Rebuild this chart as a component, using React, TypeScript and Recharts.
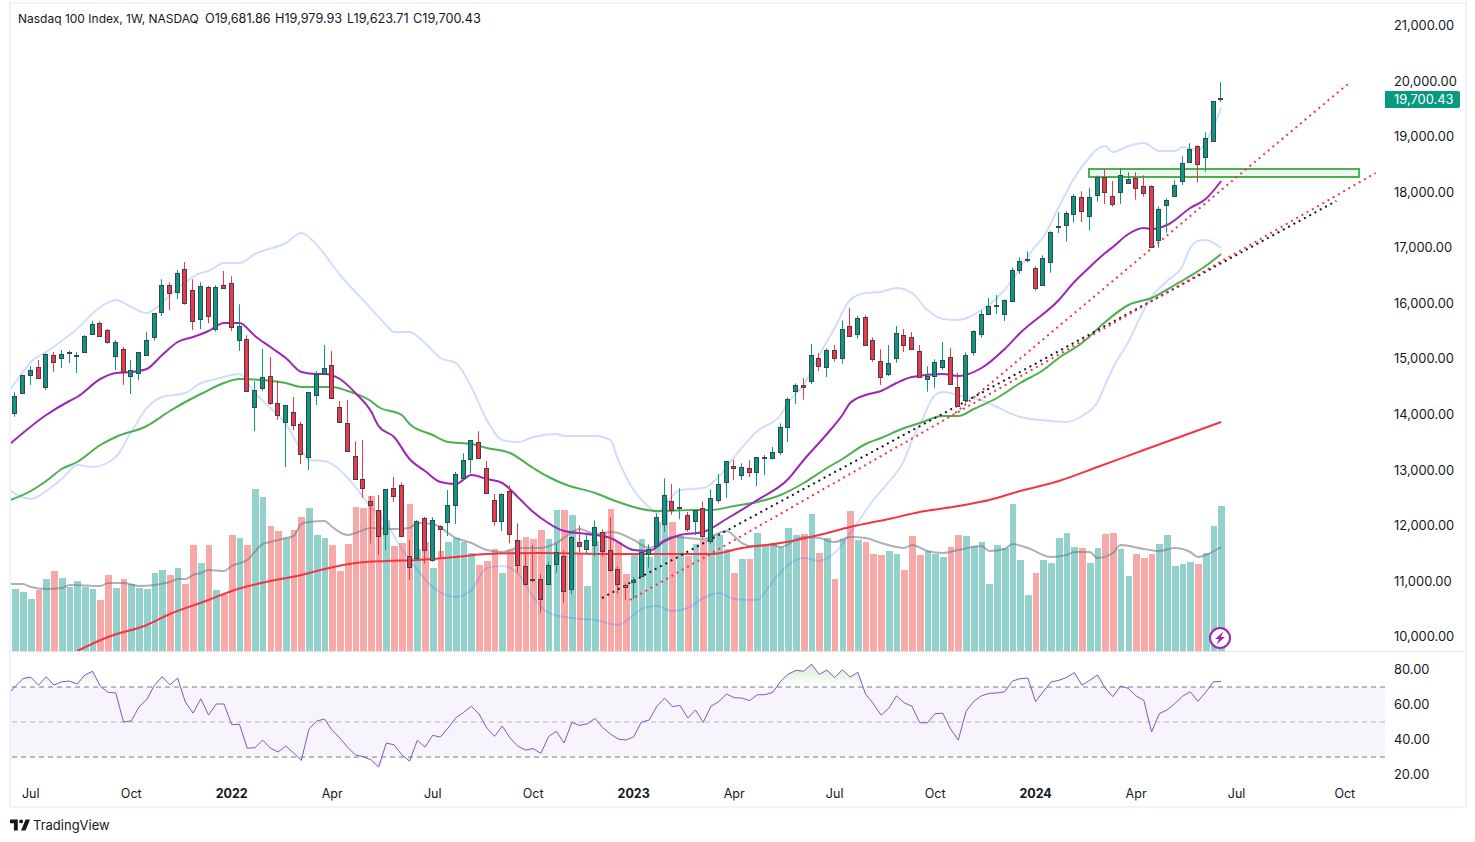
import {
  Area,
  Bar,
  ComposedChart,
  Line,
  ReferenceArea,
  ReferenceLine,
  XAxis,
  YAxis,
} from 'recharts';

// weekly candles, index 0 = first full candle on screen
const opens = [
  14019, 14379, 14715, 14847, 14487, 15063, 15009, 15111, 15057, 15117,
  15441, 15639, 15513, 15045, 15171, 14685, 14739, 15063, 15387, 15849,
  16323, 16197, 16611, 16233, 15711, 16287, 15531, 16323, 16359, 15345,
  15351, 14127, 14469, 14685, 14199, 13857, 14037, 13821, 13227, 14343,
  14721, 14883, 14127, 13839, 13245, 12831, 12435, 12273, 11841, 12669,
  12723, 11445, 11421, 12129, 11385, 11985, 12057, 12363, 12849, 13191,
  13497, 13029, 12453, 12075, 12615, 11733, 11265, 11031, 11031, 10941,
  11301, 11445, 10863, 11697, 11583, 11655, 11877, 11553, 11211, 10929,
  10989, 11097, 11493, 11625, 12021, 12435, 12315, 12183, 12075, 12309,
  11715, 12453, 12777, 13065, 12903, 13029, 12957, 13209, 13221, 13317,
  13779, 14427, 14523, 14595, 15009, 14847, 15153, 15009, 15585, 15441,
  15747, 15333, 14955, 14733, 15009, 15423, 15387, 15135, 14631, 14685,
  14847, 15027, 14487, 14253, 15117, 15441, 15813, 15945, 15801, 16035,
  16593, 16785, 16629, 16323, 16737, 17385, 17403, 17601, 17907, 17565,
  17943, 18267, 17925, 17997, 18171, 18249, 18105, 18105, 17133, 17763,
  17925, 18195, 18537, 18825, 18627, 18915, 19681.86,
];
const highs = [
  14397, 14703, 14871, 14979, 15099, 15123, 15159, 15147, 15123, 15429,
  15681, 15675, 15537, 15339, 15213, 14979, 15117, 15483, 15819, 16431,
  16377, 16593, 16743, 16431, 16377, 16311, 16323, 16581, 16485, 15981,
  15423, 14595, 15177, 15033, 14613, 14163, 14313, 13863, 14397, 14781,
  15249, 15141, 14241, 14259, 13515, 13539, 12537, 12549, 12651, 12873,
  12777, 11739, 12093, 12153, 12147, 12003, 12639, 12963, 13299, 13533,
  13695, 13161, 12567, 12579, 12723, 12039, 11517, 11649, 11127, 11349,
  11667, 11553, 11811, 12003, 11841, 12093, 11931, 12153, 11271, 10959,
  11067, 11517, 11661, 12219, 12849, 12747, 12669, 12243, 12273, 12435,
  12651, 12927, 13155, 13179, 13119, 13173, 13227, 13269, 13413, 13839,
  14307, 14559, 14655, 15267, 15105, 15189, 15249, 15693, 15915, 15771,
  15783, 15387, 15171, 15249, 15591, 15537, 15483, 15249, 14865, 14991,
  15303, 15195, 14745, 15117, 15513, 15873, 16095, 16149, 16071, 16647,
  16827, 16935, 16665, 16863, 17295, 17637, 17655, 17961, 18015, 18075,
  18303, 18411, 18201, 18429, 18357, 18357, 18303, 18123, 17745, 17889,
  18213, 18645, 18879, 18843, 19077, 19635, 19979.93,
];
const lows = [
  13959, 14379, 14529, 14649, 14439, 14763, 14835, 14925, 14745, 15117,
  15441, 15405, 15273, 14799, 14529, 14367, 14619, 15063, 15327, 15771,
  15879, 16077, 15975, 15519, 15531, 15639, 15489, 16281, 15501, 15141,
  14415, 13701, 14421, 14169, 13899, 13053, 13719, 13107, 12999, 14169,
  14709, 14277, 13857, 13335, 12831, 12501, 11679, 11469, 11559, 12423,
  11805, 11019, 11379, 11319, 11349, 11409, 11811, 12027, 12849, 12939,
  13209, 12579, 11997, 11901, 11679, 11151, 10941, 10971, 10425, 10941,
  11151, 10611, 10767, 11511, 11499, 11439, 11439, 11169, 10767, 10659,
  10677, 11091, 11241, 11607, 11889, 12195, 12111, 11889, 11829, 11769,
  11667, 12399, 12501, 12819, 12819, 12873, 12711, 12909, 13191, 13269,
  13509, 14187, 14265, 14547, 14781, 14673, 14949, 14913, 15405, 15363,
  15243, 14949, 14529, 14691, 14931, 15123, 15171, 14667, 14409, 14475,
  14799, 14541, 14145, 14199, 15057, 15381, 15813, 15813, 15681, 16035,
  16527, 16737, 16227, 16323, 16551, 17265, 17109, 17451, 17463, 17307,
  17829, 17787, 17739, 17787, 18153, 17865, 17919, 17007, 17001, 17271,
  17925, 18129, 18537, 18171, 18369, 18915, 19623.71,
];
const closes = [
  14325, 14703, 14793, 14649, 15081, 14937, 15081, 15123, 15069, 15405,
  15621, 15405, 15297, 15297, 14757, 14793, 15117, 15333, 15819, 16323,
  16179, 16539, 15999, 15675, 16305, 15765, 16287, 16281, 15567, 15585,
  14415, 14433, 14667, 14211, 13983, 14163, 13803, 13281, 14397, 14721,
  14829, 14295, 13857, 13335, 12831, 12669, 12363, 11805, 12651, 12525,
  11805, 11247, 12075, 11553, 12093, 11943, 12363, 12921, 13173, 13533,
  13209, 12579, 12075, 12561, 11841, 11283, 10941, 11013, 10671, 11283,
  11517, 10827, 11793, 11637, 11733, 11967, 11535, 11205, 10953, 10899,
  11013, 11517, 11583, 12147, 12543, 12273, 12327, 11943, 12273, 11805,
  12489, 12741, 13155, 13029, 13047, 12969, 13227, 13227, 13317, 13767,
  14271, 14523, 14499, 15063, 14865, 15153, 15009, 15531, 15405, 15729,
  15243, 14991, 14667, 14919, 15459, 15243, 15171, 14667, 14685, 14937,
  14973, 14541, 14145, 15063, 15495, 15801, 15945, 15963, 16053, 16593,
  16755, 16791, 16269, 16809, 17277, 17391, 17619, 17925, 17655, 17907,
  18267, 17997, 17781, 18303, 18231, 18069, 17979, 17007, 17691, 17853,
  18123, 18519, 18771, 18501, 18969, 19635, 19700.43,
];
const volumes = [
  6.2, 5.9, 5.2, 6.1, 7.2, 8.0, 7.3, 6.4, 7.0, 6.4,
  6.2, 5.1, 7.6, 6.3, 7.2, 6.7, 6.3, 6.2, 7.8, 8.1,
  7.6, 8.3, 6.7, 10.6, 8.8, 10.6, 6.1, 5.6, 11.6, 11.3,
  10.6, 16.2, 15.4, 12.5, 12.0, 11.3, 12.1, 13.4, 14.3, 11.6,
  11.3, 10.6, 8.0, 10.7, 14.4, 14.3, 15.5, 14.1, 13.1, 10.5,
  10.8, 14.7, 10.2, 10.9, 8.3, 10.0, 10.9, 11.3, 10.9, 9.8,
  8.6, 9.0, 10.2, 7.8, 10.1, 11.1, 11.4, 11.2, 12.1, 11.2,
  14.1, 14.1, 13.6, 9.7, 6.5, 11.0, 11.8, 14.2, 10.9, 7.7,
  9.6, 11.2, 9.4, 12.9, 15.1, 12.9, 11.5, 9.5, 10.7, 11.1,
  11.6, 11.6, 10.2, 7.8, 9.2, 9.2, 11.8, 10.5, 10.7, 10.4,
  12.3, 11.6, 11.7, 13.7, 9.8, 11.3, 7.2, 11.2, 14.0, 11.1,
  10.9, 9.7, 9.6, 10.0, 9.7, 8.1, 11.5, 9.6, 10.0, 9.7,
  9.4, 10.4, 11.6, 11.5, 10.5, 10.9, 6.7, 10.6, 10.3, 14.7,
  9.1, 5.6, 7.8, 9.1, 8.8, 11.3, 11.8, 10.4, 10.3, 8.8,
  10.3, 11.7, 11.8, 10.2, 7.5, 9.7, 9.3, 9.7, 10.7, 11.6,
  8.5, 8.7, 8.9, 8.7, 9.8, 12.5, 14.5,
];

// RSI starts one week earlier, left of the first candle
const rsiValues = [
  65.5, 70.4, 74.8, 75.7, 71, 75.9, 71.1, 73, 73.4, 71.7, 76.9,
  79, 70.4, 67, 66.6, 50, 50.6, 58.6, 62.8, 71, 75.9,
  71.3, 75.1, 61.4, 55.1, 63.3, 54, 60.3, 60.3, 48.5, 48.7,
  35.1, 35.3, 39.7, 35.1, 32.9, 36.3, 32.3, 28.1, 46, 50.6,
  51.7, 45.2, 40.9, 35.5, 31.3, 30.2, 28.5, 24.3, 38, 37,
  31.3, 27.7, 39.5, 35.7, 42.4, 41.4, 46.6, 52.5, 55.5, 59,
  54.6, 46.6, 41.8, 47.7, 40.9, 36.3, 34, 34.8, 32.1, 41.8,
  44.7, 38, 49.8, 48.1, 49, 52.1, 46.8, 43.1, 40.3, 39.7,
  41.6, 50, 51.1, 59, 63.7, 58.8, 59.5, 52.3, 56.9, 49.8,
  59, 61.6, 66, 63.9, 63.7, 62.2, 65.6, 65.6, 67, 73.2,
  77.4, 79.5, 79, 83.1, 77.2, 79.7, 75.3, 79.9, 75.7, 78.4,
  66, 60.5, 54, 57.8, 64.9, 61, 59, 49.6, 49.6, 54.8,
  55, 46, 39.7, 56.1, 61.8, 65, 66.4, 66.6, 67.3, 73.4,
  74.8, 75.1, 61.6, 67.5, 72.9, 73.8, 75.5, 78.2, 71.1, 73.8,
  76.9, 69.4, 64.5, 70.6, 69.2, 64.9, 62.4, 44.3, 54.8, 56.9,
  60.5, 64.7, 67.3, 61.8, 67, 73, 73.2,
];

// moving averages, read at the weeks where the curve bends
const sma20Weeks = [
  -1, 4, 7, 8, 11, 13, 15, 17, 19, 21, 23, 25, 27, 29, 31, 33, 35, 37, 39, 40, 42, 44, 46, 47, 49,
  51, 53, 55, 57, 59, 61, 63, 65, 67, 68, 71, 74, 77, 80, 82, 84, 86, 89, 92, 96, 100, 102, 105,
  107, 108, 110, 112, 114, 116, 120, 122, 125, 128, 130, 135, 137, 139, 141, 142, 144, 146, 147,
  149, 152, 154, 156,
];
const sma20Values = [
  13431, 13989, 14241, 14313, 14637, 14745, 14763, 14817, 15069, 15303, 15393, 15501, 15645, 15645,
  15411, 15213, 15015, 14763, 14727, 14727, 14637, 14385, 14061, 13791, 13593, 13197, 12981, 12783,
  12747, 12909, 12837, 12765, 12513, 12243, 12135, 11901, 11847, 11775, 11559, 11541, 11721, 11829,
  11883, 12117, 12459, 12837, 13179, 13647, 13989, 14205, 14349, 14421, 14565, 14673, 14727, 14691,
  14835, 15177, 15465, 16059, 16383, 16653, 16905, 17013, 17247, 17355, 17337, 17409, 17715, 17877,
  18201,
];
const sma50Weeks = [
  -1, 2, 4, 6, 8, 11, 13, 17, 20, 22, 24, 27, 29, 32, 35, 37, 41, 43, 46, 47, 50, 51, 54, 56, 59,
  61, 64, 67, 69, 71, 75, 78, 81, 83, 88, 90, 93, 96, 99, 102, 105, 107, 110, 112, 115, 117, 120,
  122, 124, 127, 130, 133, 135, 138, 141, 144, 147, 150, 152, 154, 156,
];
const sma50Values = [
  12441, 12621, 12801, 13017, 13143, 13449, 13593, 13791, 14061, 14223, 14367, 14565, 14637, 14619,
  14565, 14493, 14493, 14421, 14241, 14133, 13989, 13827, 13629, 13503, 13467, 13395, 13305, 13035,
  12873, 12747, 12585, 12423, 12297, 12261, 12279, 12279, 12351, 12423, 12549, 12765, 13035, 13197,
  13467, 13575, 13755, 13845, 13971, 13971, 14097, 14295, 14565, 14799, 15015, 15285, 15663, 15969,
  16095, 16329, 16491, 16671, 16887,
];
const sma200Weeks = [
  8, 12, 17, 20, 25, 28, 33, 37, 40, 44, 48, 52, 57, 61, 68, 77, 84, 90, 94, 99, 104, 108, 113, 117,
  122, 126, 130, 135, 140, 146, 151, 156,
];
const sma200Values = [
  9741, 9993, 10209, 10407, 10659, 10821, 11001, 11109, 11217, 11325, 11361, 11379, 11433, 11487,
  11505, 11487, 11487, 11487, 11595, 11685, 11829, 11973, 12117, 12243, 12351, 12459, 12621, 12801,
  13053, 13359, 13611, 13863,
];
const bbUpperWeeks = [
  -1, 1, 2, 4, 6, 8, 11, 13, 15, 17, 18, 21, 24, 25, 27, 29, 31, 35, 37, 39, 42, 45, 48, 49, 51, 53,
  55, 57, 59, 61, 63, 65, 67, 70, 71, 75, 77, 78, 80, 82, 83, 84, 86, 89, 91, 93, 96, 99, 100, 102,
  104, 106, 108, 110, 112, 114, 116, 118, 120, 122, 125, 127, 129, 130, 132, 133, 135, 137, 139,
  140, 141, 142, 144, 146, 148, 150, 151, 153, 155, 156,
];
const bbUpperValues = [
  14385, 14763, 14943, 15123, 15321, 15537, 15933, 16059, 15933, 15825, 15897, 16275, 16545, 16581,
  16725, 16725, 16887, 17085, 17265, 17049, 16509, 16059, 15609, 15483, 15483, 15285, 15015, 14925,
  14493, 13899, 13539, 13503, 13593, 13647, 13611, 13611, 13539, 13179, 12639, 12333, 12225, 12369,
  12639, 12675, 12873, 13233, 13701, 13989, 14223, 14529, 15069, 15555, 16059, 16185, 16203, 16275,
  16185, 15879, 15717, 15699, 15879, 16095, 16419, 16635, 17031, 17193, 17733, 18255, 18633, 18777,
  18831, 18723, 18831, 18885, 18741, 18741, 18813, 18759, 19173, 19515,
];
const bbLowerWeeks = [
  -1, 2, 4, 6, 8, 10, 13, 15, 17, 19, 22, 24, 26, 29, 31, 33, 35, 37, 38, 40, 42, 44, 46, 48, 50, 52,
  54, 57, 59, 61, 63, 65, 67, 69, 72, 75, 78, 80, 81, 83, 85, 87, 89, 91, 93, 96, 97, 99, 102, 104,
  106, 109, 111, 113, 115, 116, 117, 119, 120, 123, 125, 127, 130, 134, 136, 138, 140, 141, 142, 144,
  146, 147, 149, 151, 152, 153, 154, 156,
];
const bbLowerValues = [
  12657, 12477, 12621, 12837, 13089, 13053, 13233, 13683, 14115, 14313, 14385, 14565, 14637, 14727,
  14385, 14115, 13827, 13359, 13179, 13161, 12999, 12693, 12333, 12045, 11577, 11199, 10893, 10713,
  10839, 11235, 11271, 11145, 10713, 10425, 10335, 10299, 10209, 10389, 10497, 10551, 10461, 10515,
  10695, 10785, 10677, 10659, 10803, 11163, 11415, 11361, 11505, 12063, 12459, 12783, 13179, 13539,
  13809, 14349, 14403, 14313, 14259, 14133, 13953, 13881, 13863, 13971, 14223, 14529, 14835, 15303,
  15879, 16113, 16401, 16671, 16995, 17121, 17139, 16995,
];
const volMaWeeks = [
  -1, 1, 2, 4, 6, 7, 11, 12, 14, 16, 18, 20, 21, 22, 23, 24, 25, 27, 28, 30, 32, 33, 35, 36, 37, 38,
  40, 41, 43, 44, 46, 49, 51, 52, 54, 57, 59, 61, 63, 65, 68, 70, 73, 75, 77, 78, 80, 82, 84, 85, 87,
  89, 92, 94, 95, 98, 99, 102, 104, 106, 108, 110, 112, 115, 116, 118, 120, 122, 125, 126, 128, 129,
  131, 134, 136, 137, 139, 140, 142, 143, 146, 148, 150, 152, 153, 154, 156,
];
const volMaValues = [
  6.7, 6.7, 6.4, 6.2, 6.3, 6.6, 6.5, 6.8, 6.8, 6.5, 6.6, 6.9, 7.2, 7.2, 7.6, 7.8, 8.1, 8.0, 8.5, 9.1,
  10.7, 10.9, 11.3, 11.5, 12.7, 12.9, 13.0, 12.4, 11.6, 11.8, 12.3, 12.2, 12.3, 12.8, 12.7, 11.3, 10.8,
  10.1, 9.9, 10.3, 10.3, 10.8, 12.2, 11.7, 11.9, 11.8, 11.1, 10.3, 11.1, 11.4, 11.3, 11.2, 12.0, 10.8,
  10.5, 10.6, 10.4, 11.4, 11.3, 10.9, 11.4, 11.3, 10.8, 10.3, 10.6, 10.0, 9.8, 10.1, 10.5, 10.0, 10.2,
  10.7, 10.3, 9.4, 9.6, 9.9, 9.9, 9.3, 9.8, 10.6, 10.2, 10.0, 10.3, 9.9, 9.4, 9.6, 10.4,
];

const priceTicks = [10000, 11000, 12000, 13000, 14000, 15000, 16000, 17000, 18000, 19000, 20000, 21000];
const rsiTicks = [20, 40, 60, 80];
const timeTicks = [2, 15, 28, 41, 54, 67, 80, 93, 106, 119, 132, 145, 158, 172];
const timeLabels = ['Jul', 'Oct', '2022', 'Apr', 'Jul', 'Oct', '2023', 'Apr', 'Jul', 'Oct', '2024', 'Apr', 'Jul', 'Oct'];

const LAST_PRICE = 19700.43;

type Row = Record<string, number | undefined>;

const rows: Row[] = rsiValues.map((rsi, n) => {
  const c = n - 1;
  return {
    week: c,
    open: opens[c],
    high: highs[c],
    low: lows[c],
    close: closes[c],
    volume: volumes[c],
    rsi,
  };
});

function addSeries(key: string, weeks: number[], values: number[]) {
  weeks.forEach((w, idx) => {
    rows[w + 1][key] = values[idx];
  });
}
addSeries('sma20', sma20Weeks, sma20Values);
addSeries('sma50', sma50Weeks, sma50Values);
addSeries('sma200', sma200Weeks, sma200Values);
addSeries('bbUpper', bbUpperWeeks, bbUpperValues);
addSeries('bbLower', bbLowerWeeks, bbLowerValues);
addSeries('volMa', volMaWeeks, volMaValues);

const UP = '#089981';
const DOWN = '#f23645';
const BORDER = '#3d4350';
const WEEK_DOMAIN: [number, number] = [-0.686, 177.2];
const FONT = 'Inter, sans-serif';
const AXIS_FONT_SIZE = 12.9;

function Candle(props: any) {
  const { x, y, width, height, payload } = props;
  if (payload.open == null) return null;
  const { open, high, low, close } = payload;
  const perUnit = height / (high - low);
  const topVal = Math.max(open, close);
  const botVal = Math.min(open, close);
  // snap to the pixel grid so wicks stay one pixel wide
  const mid = Math.floor(x + width / 2) + 0.5;
  const bodyTop = Math.round(y + (high - topVal) * perUnit) + 0.5;
  const bodyBot = Math.round(y + (high - botVal) * perUnit) + 0.5;
  const color = close >= open ? UP : DOWN;
  return (
    <g>
      <line x1={mid} x2={mid} y1={y} y2={y + height} stroke={color} strokeWidth={1} />
      <rect
        x={mid - 2}
        y={bodyTop}
        width={4}
        height={Math.max(bodyBot - bodyTop, 1)}
        fill={color}
        stroke={BORDER}
        strokeWidth={1}
      />
    </g>
  );
}

function VolumeBar(props: any) {
  const { x, y, width, height, payload } = props;
  if (payload.volume == null) return null;
  const fill = payload.close >= payload.open ? '#93d2cc' : '#f7a9a7';
  const left = Math.round(x);
  return <rect x={left} y={y} width={Math.round(x + width) - left} height={height} fill={fill} />;
}

function TimeTick(props: any) {
  const { x, y, payload } = props;
  const label = timeLabels[timeTicks.indexOf(payload.value)];
  const isYear = label && label.length === 4;
  return (
    <text
      x={x}
      y={y + 10}
      textAnchor="middle"
      fontFamily={FONT}
      fontSize={12.5}
      fontWeight={isYear ? 700 : 400}
      fill="#131722"
    >
      {label}
    </text>
  );
}

// volume sits in its own chart underneath, otherwise it groups with the candles
function VolumePane() {
  return (
    <ComposedChart
      width={1465}
      height={651}
      data={rows}
      margin={{ top: 3, right: 80, bottom: 0, left: 10 }}
    >
      <XAxis dataKey="week" type="number" domain={WEEK_DOMAIN} allowDataOverflow hide />
      <YAxis domain={[0, 64.8]} hide />
      <Bar dataKey="volume" barSize={6.7} shape={VolumeBar} isAnimationActive={false} />
      <Line dataKey="volMa" type="monotone" stroke="#787b86" strokeOpacity={0.6} strokeWidth={2} dot={false} connectNulls isAnimationActive={false} />
    </ComposedChart>
  );
}

function MainPane() {
  return (
    <ComposedChart
      width={1465}
      height={651}
      data={rows}
      margin={{ top: 3, right: 0, bottom: 0, left: 10 }}
    >
      <XAxis dataKey="week" type="number" domain={WEEK_DOMAIN} allowDataOverflow hide />
      <YAxis
        orientation="right"
        width={80}
        domain={[9741, 21405]}
        ticks={priceTicks}
        interval={0}
        tickLine={false}
        axisLine={false}
        tickMargin={3}
        tick={{ fill: '#131722', fontSize: AXIS_FONT_SIZE, fontFamily: FONT }}
        tickFormatter={(v: number) =>
          v.toLocaleString('en-US', { minimumFractionDigits: 2 })
        }
      />

      <Line dataKey="bbUpper" type="monotone" stroke="#2962ff" strokeOpacity={0.22} strokeWidth={2} dot={false} connectNulls isAnimationActive={false} />
      <Line dataKey="bbLower" type="monotone" stroke="#2962ff" strokeOpacity={0.22} strokeWidth={2} dot={false} connectNulls isAnimationActive={false} />
      <Line dataKey="sma200" type="monotone" stroke="#f23645" strokeWidth={2} dot={false} connectNulls isAnimationActive={false} />
      <Line dataKey="sma50" type="monotone" stroke="#4caf50" strokeWidth={2} dot={false} connectNulls isAnimationActive={false} />
      <Line dataKey="sma20" type="monotone" stroke="#9c27b0" strokeWidth={2} dot={false} connectNulls isAnimationActive={false} />

      <ReferenceArea
        x1={138.9}
        x2={173.85}
        y1={18273}
        y2={18417}
        fill="#4caf50"
        fillOpacity={0.1}
        stroke="#4caf50"
        strokeWidth={2}
      />
      <ReferenceLine
        segment={[{ x: 75.9, y: 10695 }, { x: 170.9, y: 17841 }]}
        stroke="#131722"
        strokeWidth={2}
        strokeDasharray="2 4"
      />
      <ReferenceLine
        segment={[{ x: 79.5, y: 10659 }, { x: 176, y: 18345 }]}
        stroke="#f23645"
        strokeWidth={2}
        strokeDasharray="2 4"
      />
      <ReferenceLine
        segment={[{ x: 121.6, y: 14025 }, { x: 172.7, y: 19983 }]}
        stroke="#f23645"
        strokeWidth={2}
        strokeDasharray="2 4"
      />

      <Bar
        dataKey={(d: Row) => (d.open == null ? undefined : [d.low, d.high])}
        barSize={5}
        shape={Candle}
        isAnimationActive={false}
        zIndex={600}
      />
    </ComposedChart>
  );
}

const rsiRows = rows.map((r) => ({
  week: r.week,
  rsi: r.rsi,
  over: [70, Math.max(r.rsi as number, 70)],
  under: [Math.min(r.rsi as number, 30), 30],
}));

function RsiPane() {
  return (
    <ComposedChart
      width={1465}
      height={154}
      data={rsiRows}
      margin={{ top: 0, right: 0, bottom: 0, left: 10 }}
    >
      <defs>
        <linearGradient id="overFill" x1="0" y1="0" x2="0" y2="1">
          <stop offset="0%" stopColor="#4caf50" stopOpacity={0.4} />
          <stop offset="100%" stopColor="#4caf50" stopOpacity={0} />
        </linearGradient>
        <linearGradient id="underFill" x1="0" y1="0" x2="0" y2="1">
          <stop offset="0%" stopColor="#f23645" stopOpacity={0} />
          <stop offset="100%" stopColor="#f23645" stopOpacity={0.3} />
        </linearGradient>
      </defs>
      <XAxis
        dataKey="week"
        type="number"
        domain={WEEK_DOMAIN}
        allowDataOverflow
        ticks={timeTicks}
        interval={0}
        height={26}
        tickLine={false}
        axisLine={false}
        tick={TimeTick}
      />
      <YAxis
        orientation="right"
        width={80}
        domain={[16.9, 90]}
        ticks={rsiTicks}
        interval={0}
        tickLine={false}
        axisLine={false}
        tickMargin={3}
        tick={{ fill: '#131722', fontSize: AXIS_FONT_SIZE, fontFamily: FONT }}
        tickFormatter={(v: number) => v.toFixed(2)}
      />
      <ReferenceArea y1={30} y2={70} fill="#7e57c2" fillOpacity={0.06} stroke="none" />
      <ReferenceLine y={70} stroke="#787b86" strokeDasharray="5 4" />
      <ReferenceLine y={50} stroke="#787b86" strokeOpacity={0.5} strokeDasharray="5 4" />
      <ReferenceLine y={30} stroke="#787b86" strokeDasharray="5 4" />
      <Area dataKey="over" stroke="none" fill="url(#overFill)" dot={false} isAnimationActive={false} />
      <Area dataKey="under" stroke="none" fill="url(#underFill)" dot={false} isAnimationActive={false} />
      <Line dataKey="rsi" stroke="#7e57c2" strokeWidth={1} dot={false} isAnimationActive={false} />
    </ComposedChart>
  );
}

const ohlcLabels = ['O19,681.86', 'H19,979.93', 'L19,623.71', 'C19,700.43'];

export default function App() {
  return (
    <div
      style={{
        position: 'fixed',
        left: 0,
        top: 0,
        width: 1475,
        height: 842,
        background: '#fff',
        overflow: 'hidden',
        fontFamily: FONT,
        color: '#131722',
      }}
    >
      <div style={{ position: 'absolute', left: 0, top: 0 }}>
        <VolumePane />
      </div>
      <div style={{ position: 'absolute', left: 0, top: 0 }}>
        <MainPane />
      </div>
      <div style={{ position: 'absolute', left: 0, top: 652 }}>
        <RsiPane />
      </div>

      {/* frame and pane separator */}
      <div style={{ position: 'absolute', left: 9, top: 2, width: 1458, height: 806, boxSizing: 'border-box', border: '2px solid #f0f3fa', pointerEvents: 'none' }} />
      <div style={{ position: 'absolute', left: 11, top: 651, width: 1454, height: 1, background: '#e0e3eb' }} />

      {/* symbol header */}
      <div style={{ position: 'absolute', left: 18, top: 11, fontSize: 12, lineHeight: '15px', whiteSpace: 'pre' }}>
        Nasdaq 100 Index, 1W, NASDAQ
      </div>
      {ohlcLabels.map((label, n) => (
        <div
          key={label}
          style={{ position: 'absolute', left: [205, 275, 347, 413][n], top: 11, fontSize: 12.7, lineHeight: '15px', whiteSpace: 'pre' }}
        >
          {label}
        </div>
      ))}

      {/* last price tag */}
      <div
        style={{
          position: 'absolute',
          left: 1385,
          top: 91,
          width: 75,
          height: 17,
          background: UP,
          color: '#fff',
          fontSize: AXIS_FONT_SIZE,
          lineHeight: '17px',
          paddingLeft: 9,
          boxSizing: 'border-box',
          borderRadius: '0 2px 2px 0',
        }}
      >
        {LAST_PRICE.toLocaleString('en-US', { minimumFractionDigits: 2 })}
      </div>

      {/* alert badge */}
      <svg style={{ position: 'absolute', left: 1208, top: 626 }} width={24} height={24} viewBox="0 0 24 24">
        <circle cx={12} cy={12} r={10} fill="#fff" stroke="#9c27b0" strokeWidth={2} />
        <path d="M15.5 5.5 7 13h4l-2.5 5.5L17 11h-4z" fill="#9c27b0" />
      </svg>

      {/* logo */}
      <svg style={{ position: 'absolute', left: 10, top: 819 }} width={20} height={12} viewBox="0 0 36 20">
        <path d="M14 0H0v7h7v13h7V0Zm14 20h-8L28 0h8l-8 20ZM20 7a3.5 3.5 0 1 0 0-7 3.5 3.5 0 0 0 0 7Z" fill="#131722" />
      </svg>
      <div style={{ position: 'absolute', left: 33, top: 817, fontSize: 13, lineHeight: '16px' }}>TradingView</div>
    </div>
  );
}
